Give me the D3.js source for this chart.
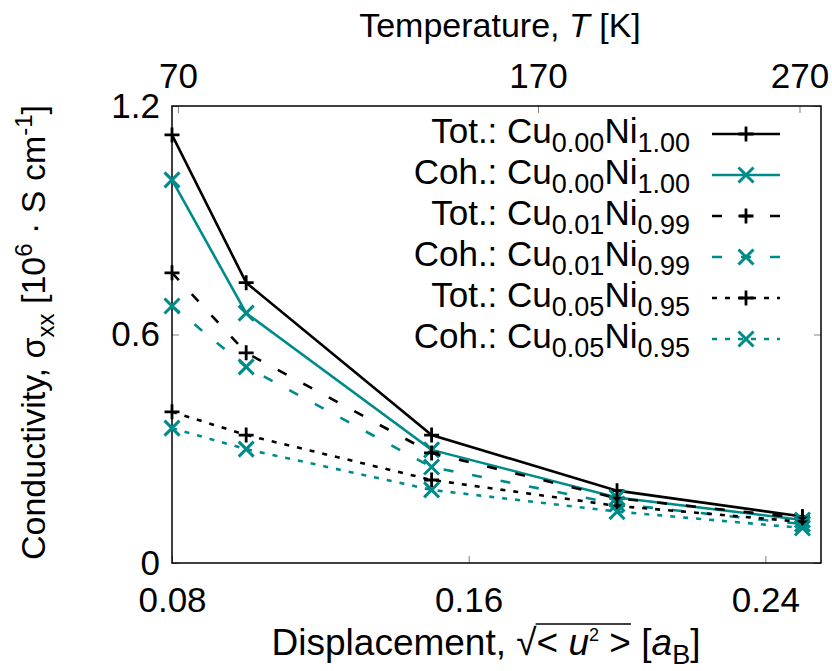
<!DOCTYPE html>
<html>
<head>
<meta charset="utf-8">
<script src="https://cdn.jsdelivr.net/npm/d3@7"></script>
<style>
  html, body { margin: 0; padding: 0; background: #fff; }
  svg { display: block; }
  text { font-family: "Liberation Sans", Arial, Helvetica, sans-serif; fill: #000; }
</style>
</head>
<body>
<svg id="chart" width="832" height="671"></svg>
<script>
// Displacement sqrt(<u^2>) in Bohr radii
const displacement = [0.08, 0.10, 0.15, 0.20, 0.25];

// Conductivity sigma_xx in 10^6 S/cm
const totNi100 = [1.124, 0.736, 0.336, 0.190, 0.122];
const cohNi100 = [1.006, 0.656, 0.297, 0.172, 0.113];
const totNi099 = [0.762, 0.552, 0.289, 0.170, 0.118];
const cohNi099 = [0.675, 0.515, 0.252, 0.155, 0.102];
const totNi095 = [0.397, 0.336, 0.218, 0.150, 0.108];
const cohNi095 = [0.354, 0.299, 0.192, 0.135, 0.092];

const xTicks = [0.08, 0.16, 0.24];
const yTicks = [0, 0.6, 1.2];
const tempTicks = [70, 170, 270];

// Series: kind, Cu fraction, Ni fraction, values, style
const teal = "#008b8b";
const series = [
  { kind: "Tot.:", cu: "0.00", ni: "1.00", values: totNi100, color: "#000", dash: null,    marker: "plus" },
  { kind: "Coh.:", cu: "0.00", ni: "1.00", values: cohNi100, color: teal,   dash: null,    marker: "cross" },
  { kind: "Tot.:", cu: "0.01", ni: "0.99", values: totNi099, color: "#000", dash: "10,19", marker: "plus" },
  { kind: "Coh.:", cu: "0.01", ni: "0.99", values: cohNi099, color: teal,   dash: "10,19", marker: "cross" },
  { kind: "Tot.:", cu: "0.05", ni: "0.95", values: totNi095, color: "#000", dash: "5,8",   marker: "plus" },
  { kind: "Coh.:", cu: "0.05", ni: "0.95", values: cohNi095, color: teal,   dash: "5,8",   marker: "cross" }
];

const svg = d3.select("#chart");
const plot = { left: 172, right: 821, top: 106, bottom: 563 };
const FS = 34, SUB = 26, TICKFS = 35;

const x = d3.scaleLinear().domain([0.08, 0.255]).range([plot.left, plot.right]);
const y = d3.scaleLinear().domain([0, 1.2]).range([plot.bottom, plot.top]);
// Temperature axis: displacement grows as sqrt(T)
const xT = d3.scalePow().exponent(0.5).domain([70, 270]).range([x(0.0816), x(0.2492)]);

// Axes with inward ticks
const tickLen = 7;
function styleAxis(g) {
  g.select(".domain").remove();
  g.selectAll(".tick line").attr("stroke", "#808080").attr("stroke-width", 1);
  g.selectAll(".tick text").attr("font-size", TICKFS).attr("font-family", null).attr("fill", "#000");
}

svg.append("g").attr("transform", `translate(0,${plot.bottom})`)
  .call(d3.axisBottom(x).tickValues(xTicks).tickSize(-tickLen).tickPadding(25).tickFormat(d3.format(".2f")))
  .call(styleAxis)
  .call(g => g.selectAll(".tick text").attr("y", 24));

svg.append("g").attr("transform", `translate(${plot.left},0)`)
  .call(d3.axisLeft(y).tickValues(yTicks).tickSize(-tickLen).tickPadding(12).tickFormat(d => d === 0 ? "0" : d3.format(".1f")(d)))
  .call(styleAxis);

svg.append("g").attr("transform", `translate(${plot.right},0)`)
  .call(d3.axisRight(y).tickValues(yTicks).tickSize(-tickLen).tickFormat(""))
  .call(styleAxis);

svg.append("g").attr("transform", `translate(0,${plot.top})`)
  .call(d3.axisTop(xT).tickValues(tempTicks).tickSize(-tickLen).tickPadding(18).tickFormat(d3.format("d")))
  .call(styleAxis);

// Frame
svg.append("rect")
  .attr("x", plot.left).attr("y", plot.top)
  .attr("width", plot.right - plot.left).attr("height", plot.bottom - plot.top)
  .attr("fill", "none").attr("stroke", "#000").attr("stroke-width", 1.5);

// Markers
const markerPath = {
  plus: "M-7.5,0H7.5M0,-7.5V7.5",
  cross: "M-7.5,-7.5L7.5,7.5M-7.5,7.5L7.5,-7.5"
};

const line = d3.line().x((d, i) => x(displacement[i])).y(d => y(d));

const gSeries = svg.append("g");
series.forEach(s => {
  const g = gSeries.append("g");
  g.append("path")
    .attr("d", line(s.values))
    .attr("fill", "none")
    .attr("stroke", s.color)
    .attr("stroke-width", 2.6)
    .attr("stroke-dasharray", s.dash);
  g.selectAll("path.mk").data(s.values).join("path")
    .attr("class", "mk")
    .attr("transform", (d, i) => `translate(${x(displacement[i])},${y(d)})`)
    .attr("d", markerPath[s.marker])
    .attr("fill", "none")
    .attr("stroke", s.color)
    .attr("stroke-width", s.marker === "plus" ? 2.8 : 3);
});

// Legend
const legend = svg.append("g");
const legTextX = 690, legLine = [712, 780], legTop = 143, legStep = 41;
series.forEach((s, i) => {
  const by = legTop + i * legStep;
  const t = legend.append("text").attr("x", legTextX).attr("y", by)
    .attr("text-anchor", "end").attr("font-size", 35);
  t.append("tspan").text(s.kind + " Cu");
  t.append("tspan").attr("font-size", 27).attr("dy", 9).text(s.cu);
  t.append("tspan").attr("dy", -9).text("Ni");
  t.append("tspan").attr("font-size", 27).attr("dy", 9).text(s.ni);
  const ly = by - 9;
  legend.append("line")
    .attr("x1", legLine[0]).attr("x2", legLine[1]).attr("y1", ly).attr("y2", ly)
    .attr("stroke", s.color).attr("stroke-width", 2.6)
    .attr("stroke-dasharray", s.dash);
  legend.append("path")
    .attr("transform", `translate(${(legLine[0] + legLine[1]) / 2},${ly})`)
    .attr("d", markerPath[s.marker])
    .attr("fill", "none").attr("stroke", s.color)
    .attr("stroke-width", s.marker === "plus" ? 2.8 : 3);
});

// Top axis title
const tt = svg.append("text").attr("x", 500).attr("y", 37)
  .attr("text-anchor", "middle").attr("font-size", FS);
tt.append("tspan").text("Temperature, ");
tt.append("tspan").attr("font-style", "italic").text("T");
tt.append("tspan").text(" [K]");

// Y axis title
const yt = svg.append("text")
  .attr("transform", `translate(45,${(plot.top + plot.bottom) / 2 - 2}) rotate(-90)`)
  .attr("text-anchor", "middle").attr("font-size", FS);
yt.append("tspan").text("Conductivity, σ");
yt.append("tspan").attr("font-size", 24).attr("dy", 9).text("xx");
yt.append("tspan").attr("dy", -9).text(" [10");
yt.append("tspan").attr("font-size", 24).attr("dy", -13).text("6");
yt.append("tspan").attr("dy", 13).text(" · S cm");
yt.append("tspan").attr("font-size", 24).attr("dy", -13).text("-1");
yt.append("tspan").attr("dy", 13).text("]");

// X axis title with radical over <u^2>
const xtY = 655;
const xt = svg.append("text").attr("x", 486).attr("y", xtY)
  .attr("text-anchor", "middle").attr("font-size", 37);
xt.append("tspan").text("Displacement, √");          // chars 0..14
xt.append("tspan").text("< ");                         // 15,16
xt.append("tspan").attr("font-style", "italic").text("u"); // 17
xt.append("tspan").attr("font-size", 18).attr("dy", -14).text("2"); // 18
xt.append("tspan").attr("dy", 14).text(" >");          // 19,20
xt.append("tspan").text("  [");                        // 21..23
xt.append("tspan").attr("font-style", "italic").text("a");
xt.append("tspan").attr("font-size", 27).attr("dy", 9).text("B");
xt.append("tspan").attr("dy", -9).text("]");
const node = xt.node();
const rad = node.getExtentOfChar(14);
const gt = node.getExtentOfChar(20);
svg.append("line")
  .attr("x1", rad.x + rad.width - 1).attr("x2", gt.x + gt.width)
  .attr("y1", xtY - 31).attr("y2", xtY - 31)
  .attr("stroke", "#000").attr("stroke-width", 1.6);
</script>
</body>
</html>
